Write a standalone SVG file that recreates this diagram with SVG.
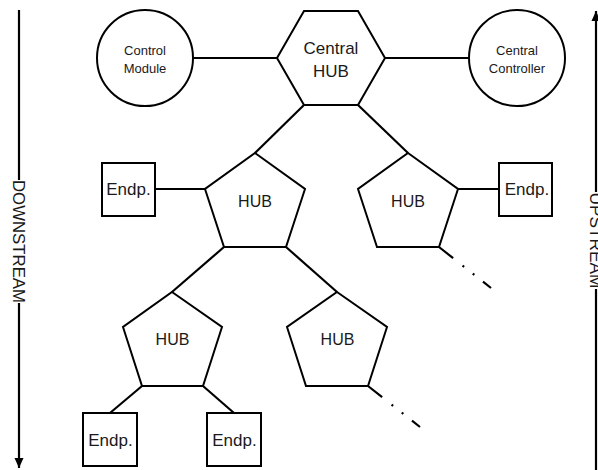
<svg xmlns="http://www.w3.org/2000/svg" width="598" height="470" viewBox="0 0 598 470">
<style>
.shape{fill:#fff;stroke:#000;stroke-width:2}
.conn{fill:none;stroke:#000;stroke-width:2.2}
.t{font-family:"Liberation Sans",Arial,sans-serif;fill:#1a1a1a;text-anchor:middle}
.s13{font-size:13px}
.s16{font-size:16px}
.s17{font-size:17px}
.tail{fill:none;stroke:#000;stroke-width:2.2;stroke-dasharray:18 12 2 11 2 11 13}
</style>
<defs>
<marker id="ah" markerUnits="userSpaceOnUse" markerWidth="10" markerHeight="10" viewBox="0 0 10 10" refX="10" refY="5" orient="auto">
<path d="M0,0.5 L10,5 L0,9.5 z" fill="#000"/>
</marker>
</defs>
<rect width="598" height="470" fill="#fff"/>

<g id="connectors">
<line class="conn" x1="193" y1="58" x2="277" y2="58"/>
<line class="conn" x1="385" y1="58" x2="469" y2="58"/>
<line class="conn" x1="304" y1="105" x2="255" y2="153"/>
<line class="conn" x1="358" y1="105" x2="408" y2="153"/>
<line class="conn" x1="155" y1="189" x2="205" y2="189"/>
<line class="conn" x1="457" y1="189" x2="499" y2="189"/>
<line class="conn" x1="224" y1="247" x2="172" y2="292"/>
<line class="conn" x1="286" y1="247" x2="337" y2="292"/>
<line class="conn" x1="142" y1="386" x2="110" y2="413"/>
<line class="conn" x1="203" y1="386" x2="234" y2="413"/>
<line class="tail" x1="439" y1="247" x2="491" y2="288"/>
<line class="tail" x1="368" y1="386" x2="420" y2="427"/>
</g>

<g id="downstream">
<line class="conn" x1="19" y1="10" x2="19" y2="180"/>
<line class="conn" x1="19" y1="303" x2="19" y2="468" marker-end="url(#ah)"/>
<text class="t s17" transform="translate(19,241.5) rotate(90)" x="0" y="6.1" textLength="123" lengthAdjust="spacingAndGlyphs">DOWNSTREAM</text>
</g>

<g id="upstream">
<line class="conn" x1="596" y1="470" x2="596" y2="289"/>
<line class="conn" x1="596" y1="192" x2="596" y2="11" marker-end="url(#ah)"/>
<text class="t s17" transform="translate(596,240.5) rotate(90)" x="0" y="6.1" textLength="96" lengthAdjust="spacingAndGlyphs">UPSTREAM</text>
</g>

<g id="control-module">
<circle class="shape" cx="145" cy="58" r="48"/>
<text class="t s13" x="145" y="55">Control</text>
<text class="t s13" x="145" y="72.5">Module</text>
</g>

<g id="central-hub">
<polygon class="shape" points="304,11 358,11 385,58 358,105 304,105 277,58"/>
<text class="t s17" x="331" y="54">Central</text>
<text class="t s17" x="331" y="77">HUB</text>
</g>

<g id="central-controller">
<circle class="shape" cx="517" cy="58" r="48"/>
<text class="t s13" x="517" y="55">Central</text>
<text class="t s13" x="517" y="72.5">Controller</text>
</g>

<g id="hub1">
<polygon class="shape" points="255,153 305,189 286,247 224,247 205,189"/>
<text class="t s16" x="255" y="207">HUB</text>
</g>

<g id="hub2">
<polygon class="shape" points="408,153 458,189 439,247 377,247 358,189"/>
<text class="t s16" x="408" y="207">HUB</text>
</g>

<g id="hub3">
<polygon class="shape" points="172,292 222,327 203,386 142,386 123,327"/>
<text class="t s16" x="172.5" y="345">HUB</text>
</g>

<g id="hub4">
<polygon class="shape" points="337,292 387,327 368,386 306,386 287,327"/>
<text class="t s16" x="337.5" y="345">HUB</text>
</g>

<g id="endp-left">
<rect class="shape" x="102" y="163" width="53" height="53"/>
<text class="t s17" x="128.5" y="195">Endp.</text>
</g>

<g id="endp-right">
<rect class="shape" x="499" y="163" width="53" height="53"/>
<text class="t s17" x="527" y="195">Endp.</text>
</g>

<g id="endp-bottom1">
<rect class="shape" x="83" y="413" width="54" height="53"/>
<text class="t s17" x="110.5" y="446">Endp.</text>
</g>

<g id="endp-bottom2">
<rect class="shape" x="207" y="413" width="54" height="53"/>
<text class="t s17" x="234.5" y="446">Endp.</text>
</g>
</svg>
